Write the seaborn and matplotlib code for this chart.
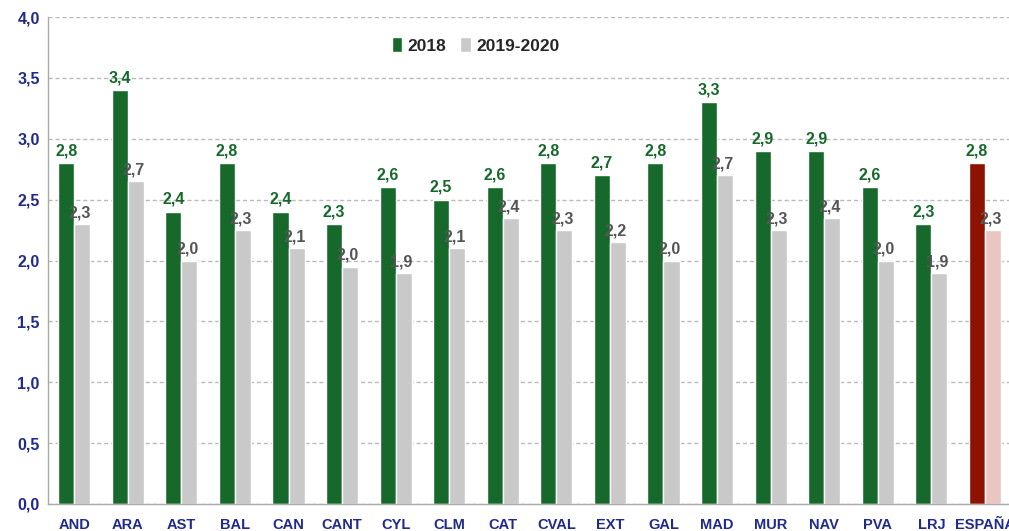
import pandas as pd
import numpy as np
import matplotlib
matplotlib.use("Agg")
import matplotlib.pyplot as plt
import seaborn as sns
from decimal import Decimal, ROUND_HALF_UP

regions = ['AND', 'ARA', 'AST', 'BAL', 'CAN', 'CANT', 'CYL', 'CLM', 'CAT',
           'CVAL', 'EXT', 'GAL', 'MAD', 'MUR', 'NAV', 'PVA', 'LRJ', 'ESPAÑA']
v2018 = [2.8, 3.4, 2.4, 2.8, 2.4, 2.3, 2.6, 2.5, 2.6,
         2.8, 2.7, 2.8, 3.3, 2.9, 2.9, 2.6, 2.3, 2.8]
v2019_20 = [2.3, 2.65, 2.0, 2.25, 2.1, 1.95, 1.9, 2.1, 2.35,
            2.25, 2.15, 2.0, 2.7, 2.25, 2.35, 2.0, 1.9, 2.25]
series = ['2018', '2019-2020']

green = '#17692B'
grey = '#C9C9C9'
red = '#8E1200'
pink = '#EBC5C1'
navy = '#1F2A8C'

sns.set_style("white")
fonts = ['Liberation Sans Narrow', 'Liberation Sans', 'DejaVu Sans']
plt.rcParams['font.family'] = fonts

df = pd.DataFrame({
    'region': regions * 2,
    'valor': v2018 + v2019_20,
    'serie': [series[0]] * len(regions) + [series[1]] * len(regions),
})

fig = plt.figure(figsize=(10.09, 5.31), dpi=100)
ax = fig.add_axes([48 / 1009, 27 / 531, 961 / 1009, 487 / 531])

sns.barplot(data=df, x='region', y='valor', hue='serie', order=regions,
            hue_order=series, palette=[green, grey], width=0.6, gap=0,
            saturation=1, ax=ax, legend=True)

# España in red
ax.containers[0][-1].set_facecolor(red)
ax.containers[1][-1].set_facecolor(pink)


def fmt(v):
    return str(Decimal(str(v)).quantize(Decimal('0.1'), ROUND_HALF_UP)).replace('.', ',')


for bar, v in zip(ax.containers[0], v2018):
    ax.text(bar.get_x() + bar.get_width() / 2, v + 0.04, fmt(v), ha='center',
            va='bottom', fontsize=11.5, fontweight='bold', color=green)
for bar, v in zip(ax.containers[1], v2019_20):
    ax.text(bar.get_x() + bar.get_width() / 2 - 0.04, v + 0.03, fmt(v), ha='center',
            va='bottom', fontsize=11.5, fontweight='bold', color='#555555')

ax.set_ylim(0, 4.0)
ax.set_xlim(-0.49, 17.45)
ax.set_yticks(np.arange(0, 4.01, 0.5))
ax.set_yticklabels([f'{t:.1f}'.replace('.', ',') for t in np.arange(0, 4.01, 0.5)])
ax.yaxis.grid(True, linestyle=(0, (3, 2)), color='#BBBBBB', linewidth=1)
ax.set_axisbelow(True)
ax.set_xlabel('')
ax.set_ylabel('')
ax.tick_params(axis='y', labelsize=11.5, labelcolor=navy, length=4, color='#999999', pad=2)
ax.tick_params(axis='x', labelsize=10.5, labelcolor=navy, length=0, pad=10)
for lab in ax.get_xticklabels() + ax.get_yticklabels():
    lab.set_fontweight('bold')

for s in ['top', 'right']:
    ax.spines[s].set_visible(False)
for s in ['left', 'bottom']:
    ax.spines[s].set_color('#AAAAAA')
    ax.spines[s].set_linewidth(1)

ax.legend(loc='upper center', bbox_to_anchor=(0.445, 0.99), ncol=2, frameon=False,
          handlelength=0.6, handleheight=0.9, handletextpad=0.3, columnspacing=0.8,
          prop={'weight': 'bold', 'size': 12.5, 'family': fonts})

fig.savefig('out.png', dpi=100)
